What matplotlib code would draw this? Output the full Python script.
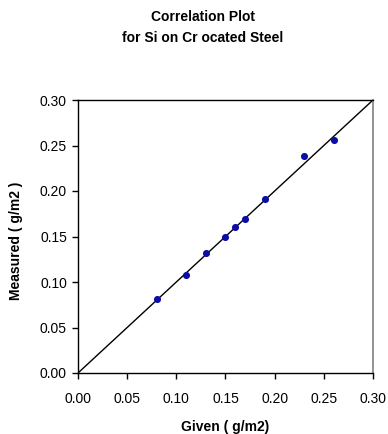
import matplotlib
matplotlib.use("Agg")
import matplotlib.pyplot as plt

given = [0.08, 0.11, 0.13, 0.15, 0.16, 0.17, 0.19, 0.23, 0.26]
measured = [0.081, 0.108, 0.132, 0.150, 0.160, 0.169, 0.191, 0.238, 0.256]
ticks = [0.00, 0.05, 0.10, 0.15, 0.20, 0.25, 0.30]
tick_labels = ["0.00", "0.05", "0.10", "0.15", "0.20", "0.25", "0.30"]

plt.rcParams['font.family'] = ['Liberation Sans', 'DejaVu Sans']

fig = plt.figure(figsize=(3.88, 4.34), dpi=100)
ax = fig.add_axes([78/388, 1-373/434, (373-78)/388, (373-100)/434])

ax.plot([0, 0.30], [0, 0.30], color='black', lw=1.0, zorder=2)
ax.scatter(given, measured, s=26, color='#0c0ca6', zorder=3, linewidths=0)

ax.set_xlim(0, 0.30)
ax.set_ylim(0, 0.30)
ax.set_xticks(ticks)
ax.set_xticklabels(tick_labels)
ax.set_yticks(ticks)
ax.set_yticklabels(tick_labels)
ax.tick_params(direction='out', length=4, width=1, labelsize=10, colors='black')
ax.tick_params(axis='y', pad=4)
ax.tick_params(axis='x', pad=10)

for s in ['left', 'bottom', 'top']:
    ax.spines[s].set_color('black')
    ax.spines[s].set_linewidth(1)
ax.spines['right'].set_color('#808080')
ax.spines['right'].set_linewidth(1.2)

ax.set_xlabel("Given ( g/m2)", fontsize=10, fontweight='bold')
ax.set_ylabel("Measured ( g/m2 )", fontsize=10, fontweight='bold')
ax.xaxis.label.set_va('center')
ax.yaxis.label.set_va('center')
ax.xaxis.set_label_coords(0.5, (373-427)/273)
ax.yaxis.set_label_coords((16-78)/295, (373-241)/273)

fig.text(203/388, 1-17/434, "Correlation Plot", ha='center', va='center', fontsize=10, fontweight='bold')
fig.text(203/388, 1-38/434, "for Si on Cr ocated Steel", ha='center', va='center', fontsize=10, fontweight='bold')

fig.savefig("out.png", dpi=100)
